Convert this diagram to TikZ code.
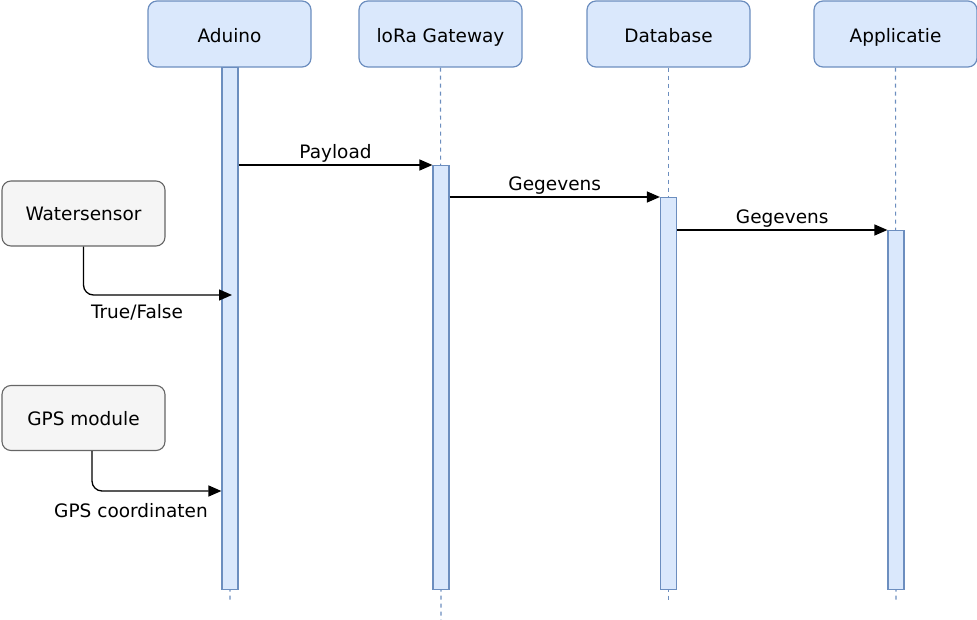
\documentclass[tikz,border=0pt]{standalone}
\usepackage{fontspec}
\setmainfont{DejaVu Sans}
\usetikzlibrary{arrows.meta,positioning,calc}
\definecolor{hdrfill}{HTML}{DAE8FC}
\definecolor{hdrline}{HTML}{6C8EBF}
\definecolor{grfill}{HTML}{F5F5F5}
\definecolor{grline}{HTML}{666666}
\tikzset{
  x=1pt,y=-1pt,
  every node/.style={font=\fontsize{18.5}{22}\selectfont},
  hdr/.style={draw=hdrline,fill=hdrfill,rounded corners=9pt,line width=1.2pt,minimum width=163pt,minimum height=66pt,inner sep=0pt,text height=19.5pt,text depth=2pt},
  sens/.style={draw=grline,fill=grfill,rounded corners=9pt,line width=1.1pt,minimum width=163pt,minimum height=65pt,inner sep=0pt,text height=17pt,text depth=2pt},
  actbar/.style={draw=hdrline,fill=hdrfill,line width=1.2pt,minimum width=16pt,inner sep=0pt,anchor=north},
  life/.style={draw=hdrline,line width=1.1pt,dash pattern=on 4pt off 4pt},
  msg/.style={draw=black,line width=1.3pt,-{Triangle[length=13pt,width=11pt]}},
  lbl/.style={inner sep=1pt,text height=13.5pt,text depth=4pt}
}
\begin{document}
\begin{tikzpicture}
\useasboundingbox (0,0) rectangle (977,620);
% headers
\node[hdr] (adu) at (229.5,34) {Aduino};
\node[hdr] (lora) at (440.5,34) {loRa Gateway};
\node[hdr] (db) at (668.5,34) {Database};
\node[hdr] (app) at (895.5,34) {Applicatie};
% lifelines
\coordinate (aduend) at (230,601);
\coordinate (loraend) at (441,620);
\coordinate (dbend) at (668.5,601);
\coordinate (append) at (896,601);
\draw[life] (adu.south) -- (aduend);
\draw[life] (lora.south) -- (loraend);
\draw[life] (db.south) -- (dbend);
\draw[life] (app.south) -- (append);
% activation bars
\node[actbar,minimum height=522pt] (adubar) at (230,67) {};
\node[actbar,minimum height=424pt] (lorabar) at (441,165) {};
\node[actbar,minimum height=392pt] (dbbar) at (668.5,197) {};
\node[actbar,minimum height=359pt] (appbar) at (896,230) {};
% messages
\draw[msg] (adubar.east |- lorabar.north) -- node[lbl,above=1pt]{Payload} (lorabar.north west);
\draw[msg] (lorabar.east |- dbbar.north) -- node[lbl,above=1pt]{Gegevens} (dbbar.north west);
\draw[msg] (dbbar.east |- appbar.north) -- node[lbl,above=1pt]{Gegevens} (appbar.north west);
% sensors
\node[sens] (ws) at (83.5,213.5) {Watersensor};
\node[sens] (gps) at (83.5,418) {GPS module};
\coordinate (wsend) at (232,295);
\coordinate (gpsstart) at (92,451);
\coordinate (gpsend) at (adubar.west |- 0,491);
\draw[msg,rounded corners=10pt] (ws.south) |- (wsend);
\node[lbl] (wslbl) at (137,314) {True/False};
\draw[msg,rounded corners=10pt] (gpsstart) |- (gpsend);
\node[lbl] (gpslbl) at (131,513) {GPS coordinaten};
\end{tikzpicture}
\end{document}
